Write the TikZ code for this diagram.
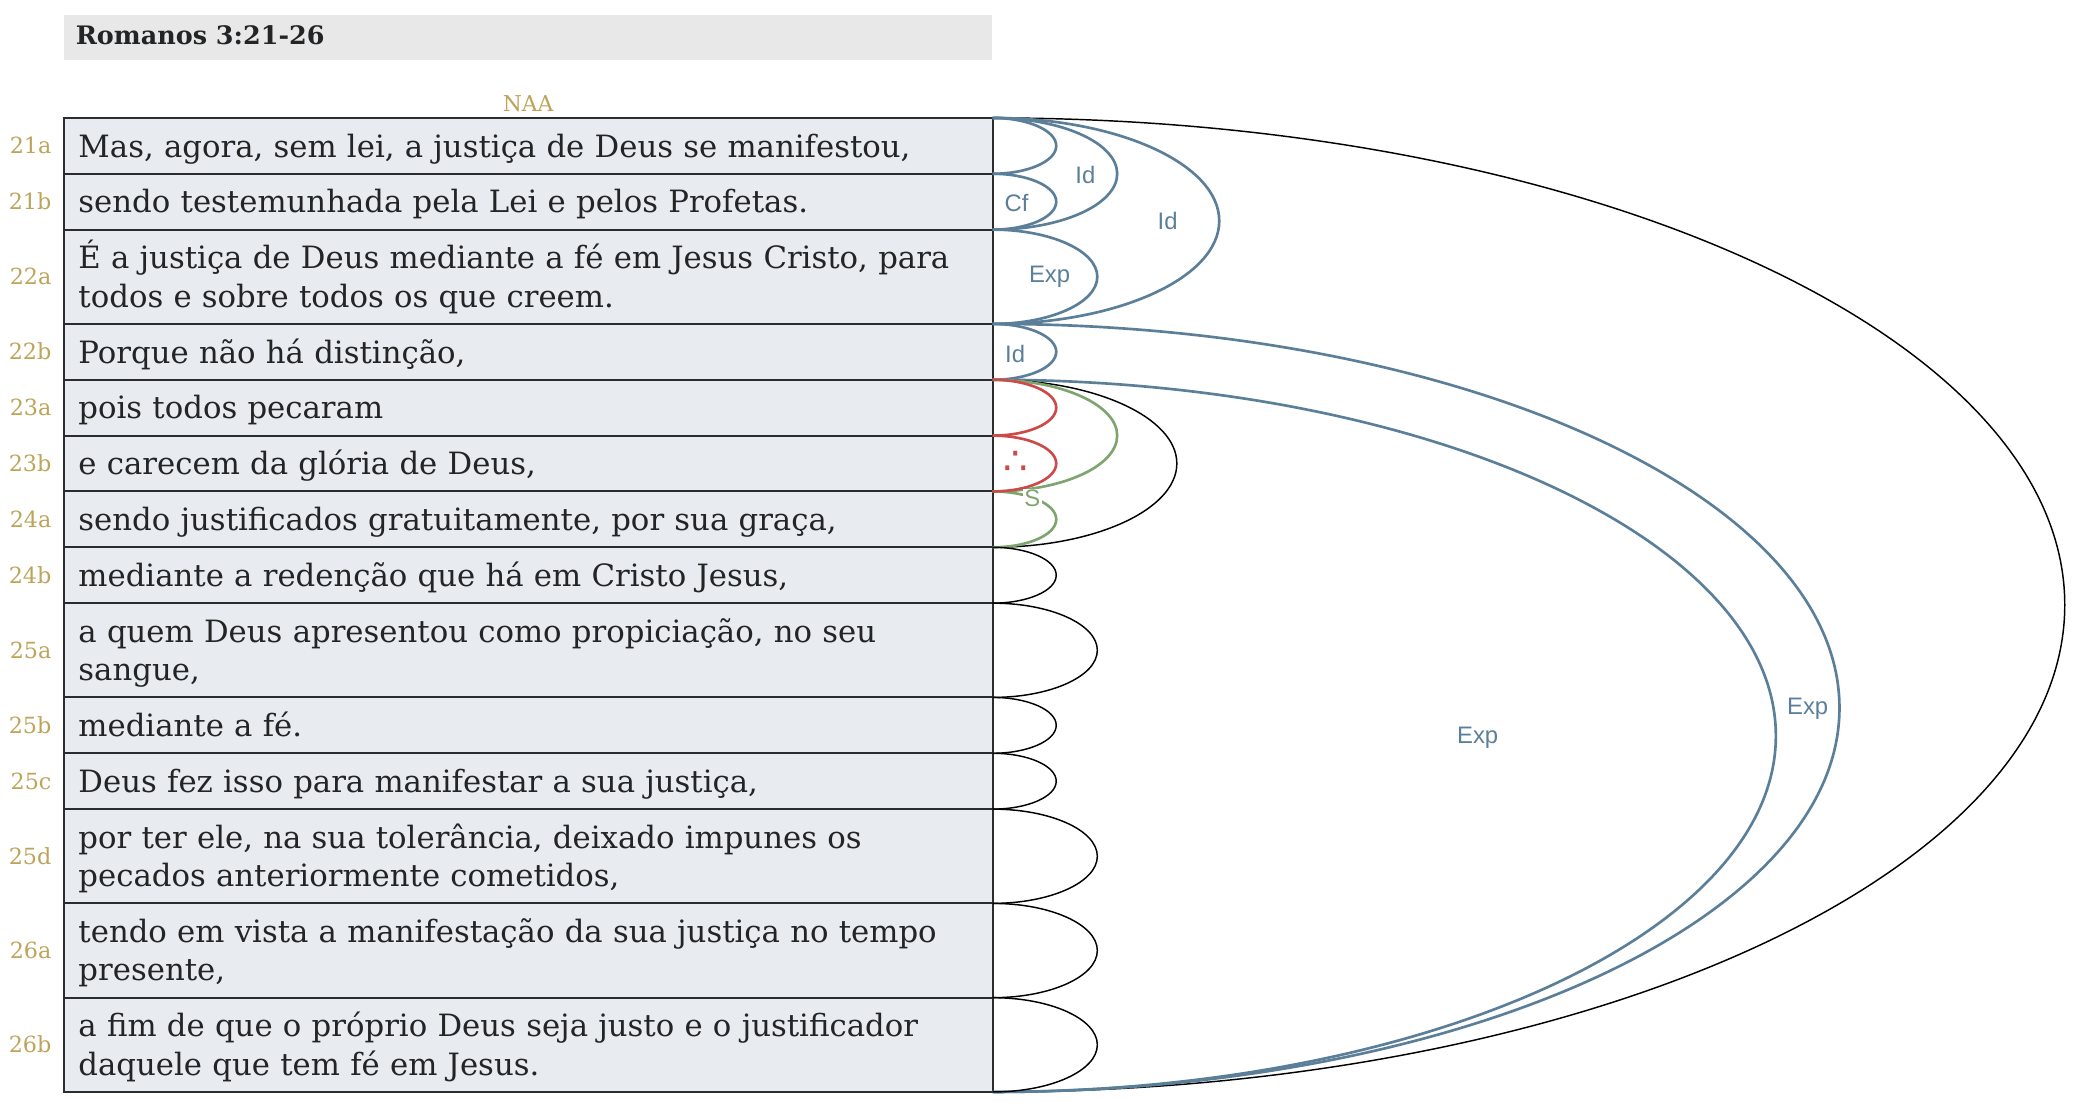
\documentclass[tikz,border=0pt]{standalone}
\usepackage{fontspec}
\setmainfont{DejaVu Serif}
\newfontfamily\labfont{Liberation Sans}
\newfontfamily\symfont{DejaVu Sans}
\definecolor{rowfill}{HTML}{E8ECF0}
\definecolor{tabline}{HTML}{2A2C2F}
\definecolor{ink}{HTML}{222426}
\definecolor{gold}{HTML}{BCA45A}
\definecolor{arcblue}{HTML}{5B7F99}
\definecolor{arcred}{HTML}{CC4A47}
\definecolor{arcgreen}{HTML}{7FA56F}
\definecolor{titlefill}{HTML}{E8E8E8}
\begin{document}
\begin{tikzpicture}[x=1pt,y=1pt,
  rowA/.style={draw=tabline, line width=1.5pt, fill=rowfill, anchor=north west, minimum width=701pt, minimum height=42.14pt, inner sep=0pt, outer sep=0pt},
  rowB/.style={rowA, minimum height=71.14pt},
  txt/.style={anchor=base west, text width=690pt, align=left, inner sep=0pt, font=\fontsize{23.2}{29}\selectfont, text=ink},
  vnum/.style={anchor=base east, inner sep=0pt, font=\fontsize{16.8}{16.8}\selectfont, text=gold},
  arcb/.style={draw=arcblue, line width=2pt},
  arcr/.style={draw=arcred, line width=2pt},
  arcg/.style={draw=arcgreen, line width=2pt},
  arck/.style={draw=black, line width=1.1pt},
  lab/.style={font=\labfont\fontsize{18}{18}\selectfont, text=arcblue, inner sep=0pt}]
\useasboundingbox (0,0) rectangle (1568,836);
% title
\node[fill=titlefill, anchor=north west, minimum width=700pt, minimum height=34pt, inner sep=0pt] (titlebox) at (48,825) {};
\node[anchor=base west, inner sep=0pt, font=\bfseries\fontsize{19.2}{19.2}\selectfont, text=ink] (title) at (57,802.5) {Romanos 3:21-26};
\node[inner sep=0pt, font=\fontsize{16.5}{16.5}\selectfont, text=gold] (naa) at (398.5,758) {NAA};
% rows
\node[rowA] (r21a) at (48,747) {};
\node[rowA] (r21b) at (r21a.south west) {};
\node[rowB] (r22a) at (r21b.south west) {};
\node[rowA] (r22b) at (r22a.south west) {};
\node[rowA] (r23a) at (r22b.south west) {};
\node[rowA] (r23b) at (r23a.south west) {};
\node[rowA] (r24a) at (r23b.south west) {};
\node[rowA] (r24b) at (r24a.south west) {};
\node[rowB] (r25a) at (r24b.south west) {};
\node[rowA] (r25b) at (r25a.south west) {};
\node[rowA] (r25c) at (r25b.south west) {};
\node[rowB] (r25d) at (r25c.south west) {};
\node[rowB] (r26a) at (r25d.south west) {};
\node[rowB] (r26b) at (r26a.south west) {};
% texts
\node[txt] (t21a) at ([shift={(11,-29.5)}]r21a.north west) {Mas, agora, sem lei, a justiça de Deus se manifestou,};
\node[txt] (t21b) at ([shift={(11,-29.5)}]r21b.north west) {sendo testemunhada pela Lei e pelos Profetas.};
\node[txt] (t22a) at ([shift={(11,-29.5)}]r22a.north west) {É a justiça de Deus mediante a fé em Jesus Cristo, para\\todos e sobre todos os que creem.};
\node[txt] (t22b) at ([shift={(11,-29.5)}]r22b.north west) {Porque não há distinção,};
\node[txt] (t23a) at ([shift={(11,-29.5)}]r23a.north west) {pois todos pecaram};
\node[txt] (t23b) at ([shift={(11,-29.5)}]r23b.north west) {e carecem da glória de Deus,};
\node[txt] (t24a) at ([shift={(11,-29.5)}]r24a.north west) {sendo justificados gratuitamente, por sua graça,};
\node[txt] (t24b) at ([shift={(11,-29.5)}]r24b.north west) {mediante a redenção que há em Cristo Jesus,};
\node[txt] (t25a) at ([shift={(11,-29.5)}]r25a.north west) {a quem Deus apresentou como propiciação, no seu\\sangue,};
\node[txt] (t25b) at ([shift={(11,-29.5)}]r25b.north west) {mediante a fé.};
\node[txt] (t25c) at ([shift={(11,-29.5)}]r25c.north west) {Deus fez isso para manifestar a sua justiça,};
\node[txt] (t25d) at ([shift={(11,-29.5)}]r25d.north west) {por ter ele, na sua tolerância, deixado impunes os\\pecados anteriormente cometidos,};
\node[txt] (t26a) at ([shift={(11,-29.5)}]r26a.north west) {tendo em vista a manifestação da sua justiça no tempo\\presente,};
\node[txt] (t26b) at ([shift={(11,-29.5)}]r26b.north west) {a fim de que o próprio Deus seja justo e o justificador\\daquele que tem fé em Jesus.};
% verse numbers
\foreach \v in {21a,21b,22a,22b,23a,23b,24a,24b,25a,25b,25c,25d,26a,26b}
  \node[vnum] (v\v) at ([shift={(-9,-6)}]r\v.west) {\v};
% arcs
\draw[arck] (r21a.north east) arc[start angle=90, end angle=-90, x radius=809, y radius=367.48];
\draw[arcb] (r22b.north east) arc[start angle=90, end angle=-90, x radius=639, y radius=289.77];
\draw[arcb] (r23a.north east) arc[start angle=90, end angle=-90, x radius=591, y radius=268.7];
\draw[arcb] (r21a.north east) arc[start angle=90, end angle=-90, x radius=171, y radius=77.71];
\draw[arcb] (r21a.north east) arc[start angle=90, end angle=-90, x radius=94, y radius=42.14];
\draw[arcb] (r21a.north east) arc[start angle=90, end angle=-90, x radius=48, y radius=21.07];
\draw[arcb] (r21b.north east) arc[start angle=90, end angle=-90, x radius=48, y radius=21.07];
\draw[arcb] (r22a.north east) arc[start angle=90, end angle=-90, x radius=79, y radius=35.57];
\draw[arcb] (r22b.north east) arc[start angle=90, end angle=-90, x radius=48, y radius=21.07];
\draw[arck] (r23a.north east) arc[start angle=90, end angle=-90, x radius=139, y radius=63.21];
\draw[arcg] (r23a.north east) arc[start angle=90, end angle=-90, x radius=94, y radius=42.14];
\draw[arcg] (r24a.north east) arc[start angle=90, end angle=-90, x radius=48, y radius=21.07];
\draw[arcr] (r23a.north east) arc[start angle=90, end angle=-90, x radius=48, y radius=21.07];
\draw[arcr] (r23b.north east) arc[start angle=90, end angle=-90, x radius=48, y radius=21.07];
\draw[arck] (r24b.north east) arc[start angle=90, end angle=-90, x radius=48, y radius=21.07];
\draw[arck] (r25a.north east) arc[start angle=90, end angle=-90, x radius=79, y radius=35.57];
\draw[arck] (r25b.north east) arc[start angle=90, end angle=-90, x radius=48, y radius=21.07];
\draw[arck] (r25c.north east) arc[start angle=90, end angle=-90, x radius=48, y radius=21.07];
\draw[arck] (r25d.north east) arc[start angle=90, end angle=-90, x radius=79, y radius=35.57];
\draw[arck] (r26a.north east) arc[start angle=90, end angle=-90, x radius=79, y radius=35.57];
\draw[arck] (r26b.north east) arc[start angle=90, end angle=-90, x radius=79, y radius=35.57];
% labels
\node[lab] (lcf) at (767,683) {Cf};
\node[lab] (lid1) at (819,704) {Id};
\node[lab] (lid2) at (881,669) {Id};
\node[lab] (lexp1) at (792,627) {Exp};
\node[lab] (lid3) at (766,569) {Id};
\node[lab] (lexp2) at (1364,301) {Exp};
\node[lab] (lexp3) at (1115,279) {Exp};
\node[inner sep=0pt, font=\symfont\fontsize{29}{29}\selectfont, text=arcred] (ther) at (766.5,486.5) {∴};
\node[lab, text=arcgreen, fill=white, inner sep=1pt] (ls) at (779,460) {S};
\end{tikzpicture}
\end{document}
